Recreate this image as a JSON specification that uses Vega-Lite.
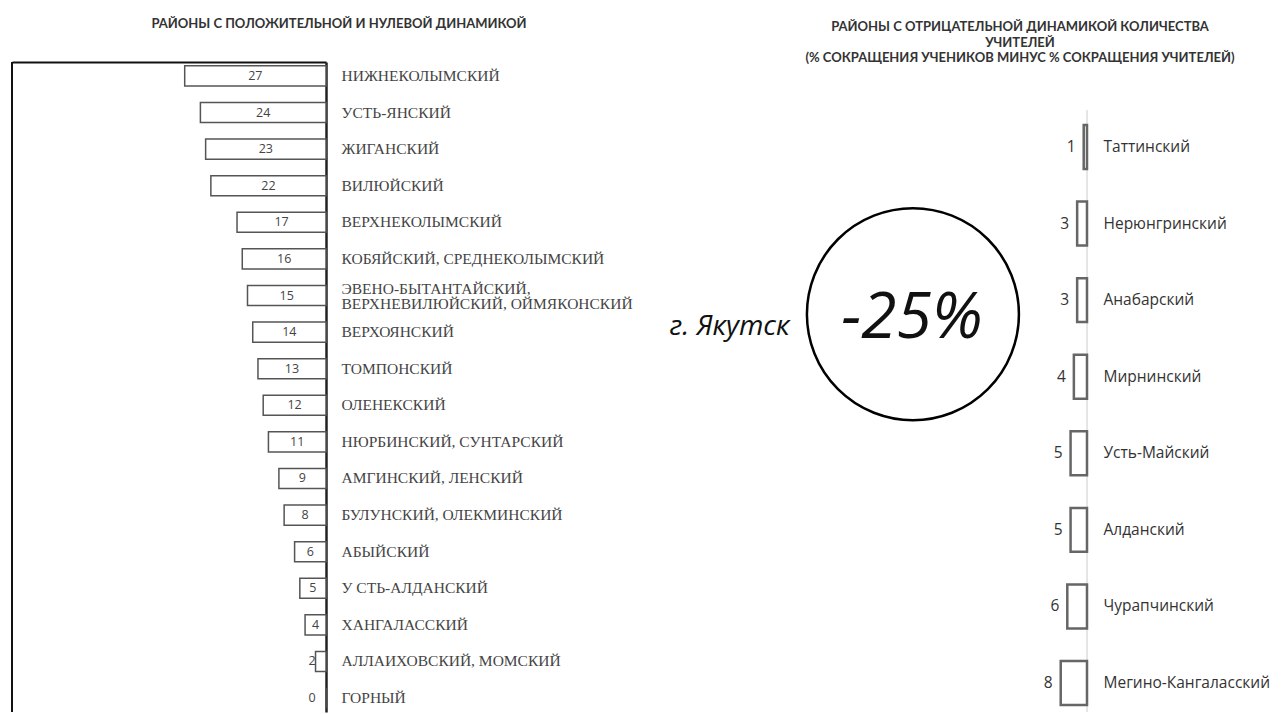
{
  "$schema": "https://vega.github.io/schema/vega-lite/v6.json",
  "background": "white",
  "padding": {"left": 11, "top": 18, "right": 0, "bottom": 0},
  "bounds": "flush",
  "spacing": 334,
  "config": {"view": {"stroke": null}},
  "datasets": {
    "pos": [
      {"district": "Нижнеколымский", "v": 27},
      {"district": "Усть-Янский", "v": 24},
      {"district": "Жиганский", "v": 23},
      {"district": "Вилюйский", "v": 22},
      {"district": "Верхнеколымский", "v": 17},
      {"district": "Кобяйский, Среднеколымский", "v": 16},
      {"district": "Эвено-Бытантайский,|Верхневилюйский, Оймяконский", "v": 15},
      {"district": "Верхоянский", "v": 14},
      {"district": "Томпонский", "v": 13},
      {"district": "Оленекский", "v": 12},
      {"district": "Нюрбинский, Сунтарский", "v": 11},
      {"district": "Амгинский, Ленский", "v": 9},
      {"district": "Булунский, Олекминский", "v": 8},
      {"district": "Абыйский", "v": 6},
      {"district": "У сть-Алданский", "v": 5},
      {"district": "Хангаласский", "v": 4},
      {"district": "Аллаиховский, Момский", "v": 2},
      {"district": "Горный", "v": 0}
    ],
    "neg": [
      {"district": "Таттинский", "v": 1},
      {"district": "Нерюнгринский", "v": 3},
      {"district": "Анабарский", "v": 3},
      {"district": "Мирнинский", "v": 4},
      {"district": "Усть-Майский", "v": 5},
      {"district": "Алданский", "v": 5},
      {"district": "Чурапчинский", "v": 6},
      {"district": "Мегино-Кангаласский", "v": 8}
    ]
  },
  "hconcat": [
    {
      "width": 314,
      "height": 650,
      "title": {
        "text": "РАЙОНЫ С ПОЛОЖИТЕЛЬНОЙ И НУЛЕВОЙ ДИНАМИКОЙ",
        "anchor": "middle", "dx": 170, "offset": 30,
        "font": "Lato", "fontSize": 13, "fontWeight": "bold", "color": "#333"
      },
      "layer": [
        {
          "data": {"name": "pos"},
          "mark": {"type": "bar", "fill": "white", "stroke": "#555", "strokeWidth": 1.5},
          "encoding": {
            "y": {
              "field": "district", "type": "nominal", "sort": null,
              "scale": {"paddingInner": 0.45, "paddingOuter": 0.105},
              "axis": {
                "orient": "right", "title": null, "ticks": false, "tickSize": 0,
                "domain": true, "domainColor": "#222", "domainWidth": 2.5,
                "labelPadding": 15, "labelFont": "Liberation Serif", "labelFontSize": 15.5,
                "labelColor": "#444", "labelLimit": 500, "labelLineHeight": 15,
                "labelOffset": {"condition": {"test": "indexof(datum.label, '|') >= 0", "value": -7}, "value": 0},
                "labelExpr": "split(upper(datum.label), '|')"
              }
            },
            "x": {
              "field": "v", "type": "quantitative",
              "scale": {"domain": [0, 60], "reverse": true},
              "axis": {"orient": "top", "title": null, "labels": false, "ticks": false, "grid": false,
                       "domain": true, "domainColor": "#111", "domainWidth": 2}
            }
          }
        },
        {
          "data": {"values": [{"edge": 60}]},
          "mark": {"type": "rule", "color": "#111", "strokeWidth": 2},
          "encoding": {
            "x": {"field": "edge", "type": "quantitative",
                  "axis": {"orient": "top", "title": null, "labels": false, "ticks": false, "grid": false,
                           "domain": true, "domainColor": "#111", "domainWidth": 2}}
          }
        },
        {
          "data": {"name": "pos"},
          "transform": [{"filter": "datum.v >= 4"}, {"calculate": "datum.v / 2", "as": "mid"}],
          "mark": {"type": "text", "font": "Open Sans", "fontSize": 12.5, "color": "#444", "baseline": "middle"},
          "encoding": {
            "y": {"field": "district", "type": "nominal", "sort": null},
            "x": {"field": "mid", "type": "quantitative",
                  "axis": {"orient": "top", "title": null, "labels": false, "ticks": false, "grid": false,
                           "domain": true, "domainColor": "#111", "domainWidth": 2}},
            "text": {"field": "v", "type": "quantitative"}
          }
        },
        {
          "data": {"name": "pos"},
          "transform": [{"filter": "datum.v < 4"}, {"calculate": "max(datum.v, 2)", "as": "lx"}],
          "mark": {"type": "text", "font": "Open Sans", "fontSize": 12.5, "color": "#444", "baseline": "middle", "align": "right", "dx": 0},
          "encoding": {
            "y": {"field": "district", "type": "nominal", "sort": null},
            "x": {"field": "lx", "type": "quantitative",
                  "axis": {"orient": "top", "title": null, "labels": false, "ticks": false, "grid": false,
                           "domain": true, "domainColor": "#111", "domainWidth": 2}},
            "text": {"field": "v", "type": "quantitative"}
          }
        }
      ]
    },
    {
      "width": 427,
      "height": 650,
      "title": {
        "text": ["РАЙОНЫ С ОТРИЦАТЕЛЬНОЙ ДИНАМИКОЙ КОЛИЧЕСТВА", "УЧИТЕЛЕЙ", "(% СОКРАЩЕНИЯ УЧЕНИКОВ МИНУС % СОКРАЩЕНИЯ УЧИТЕЛЕЙ)"],
        "anchor": "middle", "dx": 146.5, "offset": -3, "lineHeight": 15.5,
        "font": "Lato", "fontSize": 13, "fontWeight": "bold", "color": "#333"
      },
      "layer": [
        {
          "data": {"values": [{"x0": 0, "top": 0.926, "bottom": 0}]},
          "mark": {"type": "rule", "color": "#cccccc", "strokeWidth": 1},
          "encoding": {
            "x": {"field": "x0", "type": "quantitative", "axis": null},
            "y": {"field": "bottom", "type": "quantitative", "scale": {"domain": [0, 1]}, "axis": null},
            "y2": {"field": "top"}
          }
        },
        {
          "data": {"name": "neg"},
          "encoding": {
            "y": {
              "field": "district", "type": "nominal", "sort": null,
              "scale": {"paddingInner": 0.426, "paddingOuter": 0.457, "align": 0.9},
              "axis": {
                "orient": "right", "title": null, "ticks": false, "tickSize": 0, "domain": false,
                "labelPadding": 16, "labelFont": "Open Sans", "labelFontSize": 15.5,
                "labelColor": "#333", "labelLimit": 400
              }
            },
            "x": {
              "field": "v", "type": "quantitative",
              "scale": {"domain": [0, 129.4], "reverse": true},
              "axis": null
            }
          },
          "layer": [
            {"mark": {"type": "bar", "fill": "white", "stroke": "#666", "strokeWidth": 2.5}},
            {
              "mark": {"type": "text", "font": "Open Sans", "fontSize": 15.5, "color": "#333", "baseline": "middle", "align": "right", "dx": -8},
              "encoding": {"text": {"field": "v", "type": "quantitative"}}
            }
          ]
        },
        {
          "data": {"values": [{"cx": 53, "cy": 0.612}]},
          "mark": {"type": "point", "shape": "circle", "size": 44944, "filled": false, "stroke": "#000", "strokeWidth": 2.5, "opacity": 1},
          "encoding": {
            "x": {"field": "cx", "type": "quantitative", "axis": null},
            "y": {"field": "cy", "type": "quantitative", "scale": {"domain": [0, 1]}, "axis": null}
          }
        },
        {
          "data": {"values": [{"change": "-25%", "tx": 53.3, "ty": 0.575}]},
          "mark": {"type": "text", "font": "Open Sans", "fontStyle": "italic", "fontSize": 64, "color": "#111", "align": "center", "baseline": "alphabetic"},
          "encoding": {
            "x": {"field": "tx", "type": "quantitative", "axis": null},
            "y": {"field": "ty", "type": "quantitative", "scale": {"domain": [0, 1]}, "axis": null},
            "text": {"field": "change", "type": "nominal"}
          }
        },
        {
          "data": {"values": [{"city": "г. Якутск", "tx": 90.6, "ty": 0.58}]},
          "mark": {"type": "text", "font": "Open Sans", "fontStyle": "italic", "fontSize": 28, "color": "#111", "align": "right", "baseline": "alphabetic"},
          "encoding": {
            "x": {"field": "tx", "type": "quantitative", "axis": null},
            "y": {"field": "ty", "type": "quantitative", "scale": {"domain": [0, 1]}, "axis": null},
            "text": {"field": "city", "type": "nominal"}
          }
        }
      ],
      "resolve": {"scale": {"y": "independent"}, "axis": {"y": "independent"}}
    }
  ]
}
